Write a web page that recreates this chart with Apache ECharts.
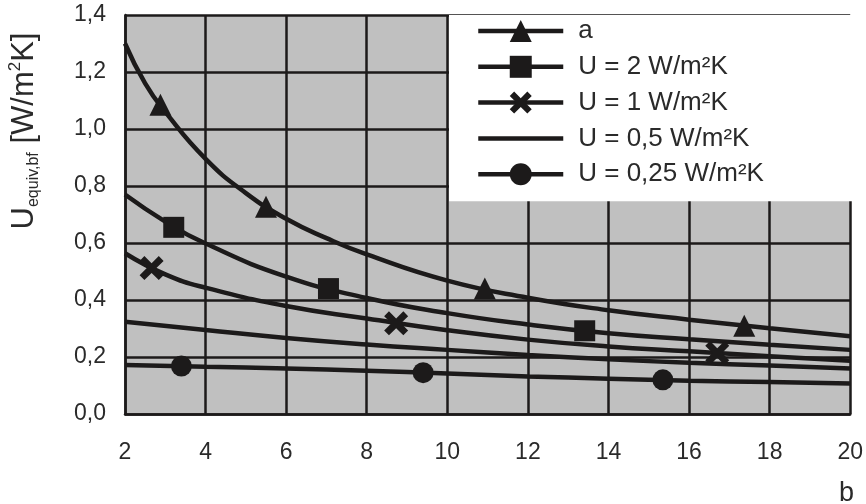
<!DOCTYPE html>
<html><head><meta charset="utf-8">
<script src="https://cdn.jsdelivr.net/npm/echarts@6/dist/echarts.min.js"></script>
<style>html,body{margin:0;padding:0;background:#fff}#c{width:866px;height:504px}</style>
</head><body><div id="c"></div>
<script>
// ---- data ----
const seriesNames = ['a', 'U = 2 W/m²K', 'U = 1 W/m²K', 'U = 0,5 W/m²K', 'U = 0,25 W/m²K'];

const aX = [2, 2.5, 3, 4, 5, 6, 7, 8, 10, 12, 14, 16, 18, 20];
const aY = [1.30, 1.16, 1.06, 0.895, 0.775, 0.685, 0.617, 0.56, 0.468, 0.408, 0.364, 0.331, 0.301, 0.273];
const aMarkX = [2.88, 5.5, 10.93, 17.37];
const aMarkY = [1.085, 0.727, 0.44, 0.31];

const u2X = [2, 3, 4, 6, 8, 10, 12, 14, 16, 18, 20];
const u2Y = [0.77, 0.675, 0.598, 0.482, 0.407, 0.354, 0.314, 0.283, 0.262, 0.243, 0.225];
const u2MarkX = [3.21, 7.05, 13.41];
const u2MarkY = [0.655, 0.44, 0.292];

const u1X = [2, 3, 4, 6, 8, 10, 12, 14, 16, 18, 20];
const u1Y = [0.564, 0.49, 0.443, 0.379, 0.335, 0.294, 0.261, 0.237, 0.22, 0.203, 0.187];
const u1MarkX = [2.66, 8.73, 16.7];
const u1MarkY = [0.512, 0.318, 0.214];

const u05X = [2, 4, 6, 8, 10, 12, 14, 16, 18, 20];
const u05Y = [0.324, 0.295, 0.267, 0.244, 0.225, 0.207, 0.192, 0.18, 0.17, 0.16];

const u025X = [2, 4, 6, 8, 10, 12, 14, 16, 18, 20];
const u025Y = [0.172, 0.166, 0.16, 0.152, 0.142, 0.132, 0.124, 0.117, 0.112, 0.107];
const u025MarkX = [3.4, 9.4, 15.35];
const u025MarkY = [0.168, 0.145, 0.12];

const xMin = 2, xMax = 20, xStep = 2;
const yMin = 0, yMax = 1.4, yStep = 0.2;

// ---- helpers ----
const FONT = '"Liberation Sans", Arial, sans-serif';
const INK = '#1c1a1a';
const TXT = '#2a2a2a';
const crossPath = 'path://M0,2 L2,0 L5,3 L8,0 L10,2 L7,5 L10,8 L8,10 L5,7 L2,10 L0,8 L3,5 Z';

const pairs = (xs, ys) => xs.map((x, i) => [x, ys[i]]);

function curve(name, xs, ys, symbol, size) {
  return {
    name, type: 'line', data: pairs(xs, ys),
    symbol, symbolSize: size, showSymbol: false,
    smooth: 0.5,
    lineStyle: { color: INK, width: 4.5 },
    itemStyle: { color: INK },
    emphasis: { disabled: true },
    animation: false, silent: true, z: 3
  };
}
function markers(name, xs, ys, symbol, size) {
  return {
    name, type: 'scatter', data: pairs(xs, ys),
    symbol, symbolSize: size,
    itemStyle: { color: INK, opacity: 1 },
    emphasis: { disabled: true },
    animation: false, silent: true, z: 4
  };
}

const chart = echarts.init(document.getElementById('c'), null, { renderer: 'canvas' });
chart.setOption({
  animation: false,
  backgroundColor: '#fff',
  textStyle: { fontFamily: FONT },
  grid: { left: 125, right: 13, top: 15, bottom: 90, show: true, backgroundColor: '#c0c0c0', borderWidth: 0 },
  xAxis: {
    type: 'value', min: xMin, max: xMax, interval: xStep,
    axisLine: { show: true, lineStyle: { color: INK, width: 2.5 } },
    axisTick: { show: false },
    splitLine: { show: true, lineStyle: { color: INK, width: 2.5 } },
    axisLabel: { color: TXT, fontSize: 23, fontFamily: FONT, margin: 27, formatter: v => String(v) }
  },
  yAxis: {
    type: 'value', min: yMin, max: yMax, interval: yStep,
    axisLine: { show: true, lineStyle: { color: INK, width: 2.5 } },
    axisTick: { show: false },
    splitLine: { show: true, lineStyle: { color: INK, width: 2.5 } },
    axisLabel: { color: TXT, fontSize: 23, fontFamily: FONT, margin: 19,
      formatter: v => v.toFixed(1).replace('.', ',') }
  },
  title: {
    text: 'b', left: 834, top: 475,
    textStyle: { fontSize: 27, fontWeight: 'normal', color: TXT, fontFamily: FONT }
  },
  legend: {
    left: 449, top: 15, orient: 'vertical',
    padding: [3, 91, 14, 27],
    backgroundColor: '#fff', borderWidth: 0,
    itemWidth: 85, itemHeight: 27.5, itemGap: 9.8,
    lineStyle: { width: 4.5, color: INK },
    data: seriesNames.map((n, i) => i === 3
      ? { name: n, icon: 'path://M0,0 L85,0 L85,4.5 L0,4.5 Z', itemStyle: { color: INK } }
      : n),
    selectedMode: false,
    textStyle: { fontSize: 26, color: TXT, fontFamily: FONT, padding: [0, 0, 0, 10] },
    z: 10
  },
  graphic: [{
    type: 'text', x: 24, y: 131, rotation: Math.PI / 2,
    style: {
      text: '{u|U}{s|equiv,bf}{n| [W/m}{p|2}{n|K]}',
      align: 'center', verticalAlign: 'middle',
      fill: TXT,
      rich: {
        u: { fontSize: 31, fontFamily: FONT, lineHeight: 35, verticalAlign: 'middle', fill: TXT },
        n: { fontSize: 31, fontFamily: FONT, lineHeight: 35, verticalAlign: 'middle', fill: TXT },
        s: { fontSize: 16, fontFamily: FONT, lineHeight: 16, verticalAlign: 'bottom', fill: TXT },
        p: { fontSize: 17, fontFamily: FONT, lineHeight: 17, verticalAlign: 'top', fill: TXT }
      }
    }
  }],
  series: [
    curve(seriesNames[0], aX, aY, 'triangle', 22),
    curve(seriesNames[1], u2X, u2Y, 'rect', 21),
    curve(seriesNames[2], u1X, u1Y, crossPath, 24),
    curve(seriesNames[3], u05X, u05Y, 'none', 0),
    curve(seriesNames[4], u025X, u025Y, 'circle', 21),
    markers(seriesNames[0], aMarkX, aMarkY, 'triangle', 22),
    markers(seriesNames[1], u2MarkX, u2MarkY, 'rect', 21),
    markers(seriesNames[2], u1MarkX, u1MarkY, crossPath, 24),
    markers(seriesNames[4], u025MarkX, u025MarkY, 'circle', 21)
  ]
});
</script></body></html>
